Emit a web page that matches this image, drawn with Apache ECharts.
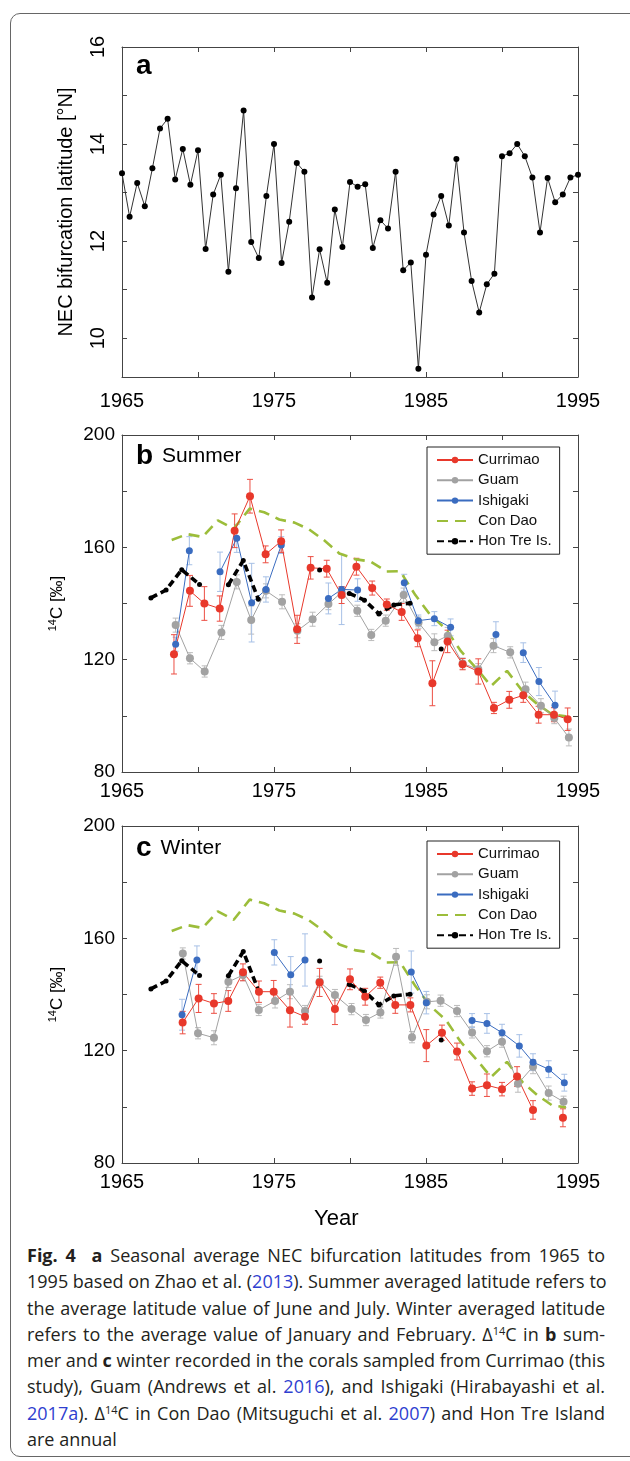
<!DOCTYPE html>
<html>
<head>
<meta charset="utf-8">
<script src="https://cdn.jsdelivr.net/npm/echarts@6/dist/echarts.min.js"></script>
<style>
  html, body { margin: 0; padding: 0; background: #fff; }
  body { width: 630px; height: 1461px; position: relative; overflow: hidden; }
  #frame {
    position: absolute; left: 10px; top: 13px; width: 640px; height: 1444px;
    border: 1px solid #666; border-radius: 10px; box-sizing: border-box;
  }
  #chart { position: absolute; left: 0; top: 0; width: 630px; height: 1235px; }
  #caption {
    position: absolute; left: 27px; top: 1242px; width: 578px;
    font-family: "Open Sans", "Noto Sans", sans-serif; font-size: 18px;
    line-height: 26.3px; color: #231f20;
  }
  #caption .ln { white-space: nowrap; text-align: justify; text-align-last: justify; }
  #caption .ln.last { text-align-last: left; }
  #caption a { color: #2f3fd0; text-decoration: none; }
  #caption sup { font-size: 11px; line-height: 0; vertical-align: 6px; }
</style>
</head>
<body>
<div id="frame"></div>
<div id="chart"></div>
<div id="caption">
  <div class="ln"><b>Fig. 4</b>&nbsp; <b>a</b> Seasonal average NEC bifurcation latitudes from 1965 to</div>
  <div class="ln">1995 based on Zhao et al. (<a>2013</a>). Summer averaged latitude refers to</div>
  <div class="ln">the average latitude value of June and July. Winter averaged latitude</div>
  <div class="ln">refers to the average value of January and February. Δ<sup>14</sup>C in <b>b</b> sum-</div>
  <div class="ln">mer and <b>c</b> winter recorded in the corals sampled from Currimao (this</div>
  <div class="ln">study), Guam (Andrews et al. <a>2016</a>), and Ishigaki (Hirabayashi et al.</div>
  <div class="ln"><a>2017a</a>). Δ<sup>14</sup>C in Con Dao (Mitsuguchi et al. <a>2007</a>) and Hon Tre Island</div>
  <div class="ln last">are annual</div>
</div>
<script>
// panel a: NEC bifurcation latitude, half-year steps from 1965
const latStart = 1965;
const latStep = 0.5;
const latValues = [13.4, 12.5, 13.2, 12.72, 13.5, 14.32, 14.52, 13.27, 13.9, 13.16,
  13.87, 11.84, 12.96, 13.37, 11.37, 13.09, 14.69, 11.98, 11.65, 12.93,
  14.0, 11.55, 12.4, 13.61, 13.43, 10.84, 11.83, 11.14, 12.65, 11.88,
  13.22, 13.12, 13.17, 11.86, 12.43, 12.26, 13.43, 11.4, 11.56, 9.37,
  11.72, 12.55, 12.93, 12.32, 13.69, 12.18, 11.18, 10.53, 11.11, 11.33,
  13.75, 13.81, 14.0, 13.75, 13.31, 12.18, 13.3, 12.8, 12.96, 13.31, 13.37];

// panel b: summer (null = gap)
const currSumYears = [1968.42, 1969.47, 1970.42, 1971.43, 1972.41, 1973.42, 1974.45, 1975.47, 1976.52, 1977.41,
  1978.47, 1979.45, 1980.42, 1981.46, 1982.42, 1983.4, 1984.45, 1985.42, 1986.42, 1987.41,
  1988.44, 1989.47, 1990.48, 1991.4, 1992.41, 1993.42, 1994.32];
const currSumVals = [121.9, 144.5, 140.0, 138.2, 165.9, 178.2, 157.5, 162.2, 130.8, 152.7,
  152.4, 143.0, 153.1, 145.5, 139.6, 137.0, 127.6, 111.6, 126.5, 118.4,
  115.8, 102.8, 105.7, 107.3, 100.4, 100.4, 98.8];
const currSumErr = [7, 5.5, 6, 4.5, 6, 6, 3, 4, 5, 4, 3, 3, 3, 2.5, 2, 3, 3, 8, 4, 2, 4.5, 2, 3, 2.5, 3, 2.5, 4];

const guamSumYears = [1968.53, 1969.47, 1970.44, 1971.54, 1972.55, 1973.5, 1974.47, 1975.53, 1976.54, 1977.54,
  1978.58, 1979.45, 1980.48, 1981.4, 1982.35, 1983.53, 1984.51, 1985.55, 1986.43, 1987.41,
  1988.44, 1989.44, 1990.54, 1991.55, 1992.56, 1993.44, 1994.4];
const guamSumVals = [132.3, 120.5, 115.8, 129.7, 147.7, 134.1, 144.5, 140.6, 130.3, 134.4,
  139.8, 144.0, 137.4, 128.8, 133.9, 143.0, 133.2, 126.2, 128.5, 118.6,
  116.6, 125.0, 122.6, 109.5, 103.6, 99.2, 92.3];
const guamSumErr = [2.5, 2, 2, 2.5, 2.5, 5, 2.5, 2.5, 2.5, 2.5, 2, 2, 2, 2, 2, 2.5, 2, 3, 3, 2, 2, 2.5, 2, 2.5, 2.5, 2, 3];

const ishiSumYears = [1968.53, 1969.43, 1970.5, 1971.45, 1972.55, 1973.53, 1974.47, 1975.48, 1977.0, 1978.58,
  1979.45, 1980.5, 1982.0, 1983.57, 1984.5, 1985.55, 1986.62, 1988.0, 1989.6, 1990.5,
  1991.4, 1992.43, 1993.49];
const ishiSumVals = [125.5, 158.8, null, 151.3, 163.2, 140.3, 145.0, 160.8, null, 141.8,
  145.0, 144.8, null, 147.4, 133.9, 134.6, 131.5, null, 129.0, null,
  122.5, 112.2, 103.8];
const ishiSumErr = [2.5, 5, 0, 7, 5, 14, 4.5, 3, 0, 5.5, 12.5, 4, 0, 3, 2, 2.5, 3, 0, 4.5, 0, 3.5, 5, 5];

// panel c: winter
const currWinYears = [1968.99, 1970.04, 1971.05, 1971.99, 1972.96, 1974.01, 1974.98, 1976.05, 1977.04, 1978.0,
  1979.01, 1980.0, 1981.0, 1981.99, 1982.98, 1983.97, 1985.02, 1986.05, 1987.04, 1988.03,
  1989.01, 1990.0, 1990.99, 1992.04, 1993.0, 1994.01];
const currWinVals = [130.0, 138.6, 136.8, 137.7, 147.9, 141.0, 141.0, 134.4, 132.1, 144.3,
  134.8, 145.4, 139.2, 144.2, 136.3, 136.3, 121.8, 126.4, 119.7, 106.5,
  107.7, 106.3, 110.8, 98.9, null, 96.1];
const currWinErr = [4, 5, 3.5, 3.7, 3, 3.8, 4, 6, 2.7, 5, 5.5, 3.7, 3, 2, 3, 2.5, 5.7, 2.7, 3, 2.4, 4, 2.4, 3.5, 3.3, 0, 3.2];

const guamWinYears = [1969.0, 1970.0, 1971.05, 1972.0, 1972.96, 1974.0, 1975.07, 1976.05, 1977.04, 1978.0,
  1979.01, 1980.1, 1981.05, 1982.0, 1983.03, 1984.08, 1985.06, 1985.96, 1987.04, 1988.03,
  1989.01, 1990.0, 1991.05, 1992.04, 1993.07, 1994.05];
const guamWinVals = [154.6, 126.2, 124.6, 144.5, 146.9, 134.5, 137.7, 141.0, 134.1, 144.5,
  139.8, 134.8, 130.9, 133.6, 153.4, 124.8, 137.4, 137.8, 134.1, 126.5,
  119.8, 123.2, 108.2, 114.3, 104.9, 101.8];
const guamWinErr = [2, 2, 2.5, 2, 2, 2, 2.5, 2.5, 2, 2, 2, 2, 2, 2, 3, 2, 2.5, 2, 2, 2, 2, 2, 3, 2.5, 2.5, 2];

const ishiWinYears = [1968.95, 1969.93, 1972.0, 1975.02, 1976.1, 1977.04, 1980.0, 1984.03, 1985.02, 1986.5,
  1988.03, 1989.01, 1990.0, 1991.14, 1992.04, 1993.07, 1994.1];
const ishiWinVals = [132.8, 152.3, null, 155.0, 147.0, 152.3, null, 148.0, 137.1, null,
  130.7, 129.7, 126.4, 121.7, 115.9, 113.4, 108.6];
const ishiWinErr = [5.5, 5, 0, 4.5, 6.5, 9.3, 0, 7.5, 4, 0, 2.5, 3.5, 3, 4, 3, 3, 3];

// annual records, same in b and c
const conDaoYears = [1968.27, 1969.3, 1970.3, 1971.3, 1972.35, 1973.4, 1974.35, 1975.35, 1976.35, 1977.3,
  1978.3, 1979.3, 1980.4, 1981.33, 1982.4, 1983.3, 1984.3, 1985.3, 1986.3, 1987.3,
  1988.4, 1989.28, 1990.33, 1991.35, 1992.3, 1993.3, 1994.2];
const conDaoVals = [162.6, 164.7, 163.7, 169.6, 166.6, 173.8, 172.5, 169.9, 168.8, 166.4,
  162.5, 157.8, 155.7, 155.0, 151.4, 151.5, 143.0, 135.8, 131.0, 123.0,
  116.4, 110.6, 116.0, 108.8, 104.3, 100.5, 99.8];

const honTreYears = [1966.9, 1967.9, 1968.93, 1970.1, 1971.0, 1972.0, 1972.98, 1973.97, 1976.0, 1978.0,
  1979.0, 1979.95, 1980.95, 1981.9, 1982.88, 1983.95, 1985.0, 1986.0];
const honTreVals = [142.0, 144.8, 152.0, 146.8, null, 146.7, 155.3, 141.5, null, 151.9,
  null, 143.6, 141.2, 136.3, 139.5, 140.1, null, 123.8];

const yearTicks = [1965, 1975, 1985, 1995];
const latTicks = [10, 11, 12, 13, 14, 15, 16];
const latLabels = [10, 12, 14, 16];
const c14Labels = [80, 120, 160, 200];

const FONT = '"Liberation Sans", Arial, Helvetica, sans-serif';
const AX = '#444';
const RED = '#e8382b', GRAY = '#a2a2a2', BLUE = '#3a6cc0', GREEN = '#9cbd3a';
const RED_ERR = '#ec4f44', GRAY_ERR = '#bcbcbc', BLUE_ERR = '#a7c0e6';

const pairs = (xs, ys) => xs.map((x, i) => [x, ys[i] === null ? '-' : ys[i]]);
const errData = (xs, ys, es) => xs.map((x, i) => [x, ys[i], es[i]]).filter(d => d[1] !== null);
const latData = latValues.map((v, i) => [latStart + i * latStep, v]);

function baseAxis(grid, position) {
  return {
    gridIndex: grid, type: 'value', position,
    axisLine: { show: true, onZero: false, lineStyle: { color: AX, width: 1 } },
    axisTick: { show: true, inside: true, length: 5, lineStyle: { color: AX } },
    splitLine: { show: false },
  };
}

function yearAxis(grid, position, margin) {
  const ax = Object.assign(baseAxis(grid, position), { min: 1965, max: 1995, interval: 5 });
  ax.axisLabel = position === 'bottom'
    ? { margin, fontSize: 20, fontFamily: FONT, color: '#000',
        formatter: v => (yearTicks.includes(v) ? String(v) : '') }
    : { show: false };
  return ax;
}

function c14Axis(grid, position) {
  const ax = Object.assign(baseAxis(grid, position), { min: 80, max: 200, interval: 20 });
  if (position === 'left') {
    ax.axisLabel = { margin: 7, fontSize: 19, fontFamily: FONT, color: '#000',
      formatter: v => (c14Labels.includes(v) ? String(v) : '') };
    ax.name = '{sup|14}C [‰]';
    ax.nameLocation = 'middle';
    ax.nameGap = 55;
    ax.nameTextStyle = { fontSize: 17, fontFamily: FONT, color: '#000', lineHeight: 20,
      rich: { sup: { fontSize: 11, fontFamily: FONT, verticalAlign: 'top', lineHeight: 20 } } };
  } else {
    ax.axisLabel = { show: false };
  }
  return ax;
}

function latAxis(position) {
  const ax = Object.assign(baseAxis(0, position), { min: 9.2, max: 16 });
  ax.axisTick.customValues = latTicks;
  if (position === 'left') {
    ax.axisLabel = { customValues: latLabels, rotate: 90, margin: 14, fontSize: 20,
      fontFamily: FONT, color: '#000' };
    ax.name = 'NEC bifurcation latitude [°N]';
    ax.nameLocation = 'middle';
    ax.nameGap = 46;
    ax.nameTextStyle = { fontSize: 20, fontFamily: FONT, color: '#000' };
  } else {
    ax.axisLabel = { show: false };
  }
  return ax;
}

function errSeries(axis, data, color) {
  return {
    type: 'custom', xAxisIndex: axis, yAxisIndex: axis, data, z: 2, silent: true,
    renderItem: (params, api) => {
      const x = api.value(0), y = api.value(1), e = api.value(2);
      const hi = api.coord([x, y + e]), lo = api.coord([x, y - e]);
      const st = { stroke: color, lineWidth: 1 };
      return {
        type: 'group', children: [
          { type: 'line', shape: { x1: hi[0], y1: hi[1], x2: lo[0], y2: lo[1] }, style: st },
          { type: 'line', shape: { x1: hi[0] - 3, y1: hi[1], x2: hi[0] + 3, y2: hi[1] }, style: st },
          { type: 'line', shape: { x1: lo[0] - 3, y1: lo[1], x2: lo[0] + 3, y2: lo[1] }, style: st },
        ],
      };
    },
  };
}

function pointSeries(axis, name, data, color, size) {
  return {
    type: 'line', name, xAxisIndex: axis, yAxisIndex: axis, data, z: 3,
    symbol: 'circle', symbolSize: size, showSymbol: true,
    lineStyle: { color, width: 1 }, itemStyle: { color },
  };
}

function panelSeries(axis, s) {
  return [
    { type: 'line', name: 'Con Dao', xAxisIndex: axis, yAxisIndex: axis, z: 2,
      data: pairs(conDaoYears, conDaoVals), symbol: 'none', itemStyle: { color: GREEN },
      lineStyle: { color: GREEN, width: 2.6, type: [11, 7] } },
    errSeries(axis, errData(s.gy, s.gv, s.ge), GRAY_ERR),
    pointSeries(axis, 'Guam', pairs(s.gy, s.gv), GRAY, 8),
    errSeries(axis, errData(s.iy, s.iv, s.ie), BLUE_ERR),
    pointSeries(axis, 'Ishigaki', pairs(s.iy, s.iv), BLUE, 7),
    { type: 'line', name: 'Hon Tre Is.', xAxisIndex: axis, yAxisIndex: axis, z: 3,
      data: pairs(honTreYears, honTreVals), symbol: 'circle', symbolSize: 5, showSymbol: true,
      itemStyle: { color: '#000' }, lineStyle: { color: '#000', width: 3.6, type: [7, 4] } },
    errSeries(axis, errData(s.cy, s.cv, s.ce), RED_ERR),
    pointSeries(axis, 'Currimao', pairs(s.cy, s.cv), RED, 8),
  ];
}

function legendAt(top) {
  return {
    orient: 'vertical', left: 427, top, padding: [5, 8, 5, 9], itemGap: 4.3,
    itemWidth: 36, itemHeight: 8, itemTextGap: 8, selectedMode: false,
    borderColor: '#222', borderWidth: 1,
    textStyle: { fontSize: 15, lineHeight: 16, fontFamily: FONT, color: '#111' },
    data: ['Currimao', 'Guam', 'Ishigaki', { name: 'Con Dao', itemStyle: { opacity: 0 } }, 'Hon Tre Is.'],
  };
}

function panelLabel(top, letter, word) {
  return {
    type: 'text', left: 136, top,
    style: {
      text: word ? '{b|' + letter + '}{t|' + word + '}' : '{b|' + letter + '}',
      rich: {
        b: { font: 'bold 28px ' + FONT, fill: '#000' },
        t: { font: '21px ' + FONT, fill: '#000', padding: [0, 0, 0, 9] },
      },
    },
  };
}

const chart = echarts.init(document.getElementById('chart'), null, { renderer: 'canvas' });
chart.setOption({
  animation: false,
  backgroundColor: 'transparent',
  grid: [
    { left: 122, top: 47, width: 456, height: 330 },
    { left: 122, top: 435, width: 456, height: 337 },
    { left: 122, top: 826, width: 456, height: 337 },
  ],
  xAxis: [
    yearAxis(0, 'bottom', 14), yearAxis(0, 'top'),
    yearAxis(1, 'bottom', 9), yearAxis(1, 'top'),
    yearAxis(2, 'bottom', 9), yearAxis(2, 'top'),
  ],
  yAxis: [
    latAxis('left'), latAxis('right'),
    c14Axis(1, 'left'), c14Axis(1, 'right'),
    c14Axis(2, 'left'), c14Axis(2, 'right'),
  ],
  legend: [legendAt(447), legendAt(841)],
  graphic: [
    panelLabel(52, 'a'),
    panelLabel(442, 'b', 'Summer'),
    panelLabel(834, 'c', 'Winter'),
    { type: 'text', left: 314, top: 1208,
      style: { text: 'Year', font: '22px ' + FONT, fill: '#000' } },
  ],
  series: [
    { type: 'line', name: 'latitude', xAxisIndex: 0, yAxisIndex: 0, data: latData,
      symbol: 'circle', symbolSize: 6, showSymbol: true,
      lineStyle: { color: '#333', width: 1 }, itemStyle: { color: '#000' } },
    ...panelSeries(2, {
      cy: currSumYears, cv: currSumVals, ce: currSumErr,
      gy: guamSumYears, gv: guamSumVals, ge: guamSumErr,
      iy: ishiSumYears, iv: ishiSumVals, ie: ishiSumErr,
    }),
    ...panelSeries(4, {
      cy: currWinYears, cv: currWinVals, ce: currWinErr,
      gy: guamWinYears, gv: guamWinVals, ge: guamWinErr,
      iy: ishiWinYears, iv: ishiWinVals, ie: ishiWinErr,
    }),
  ],
});
</script>
</body>
</html>
